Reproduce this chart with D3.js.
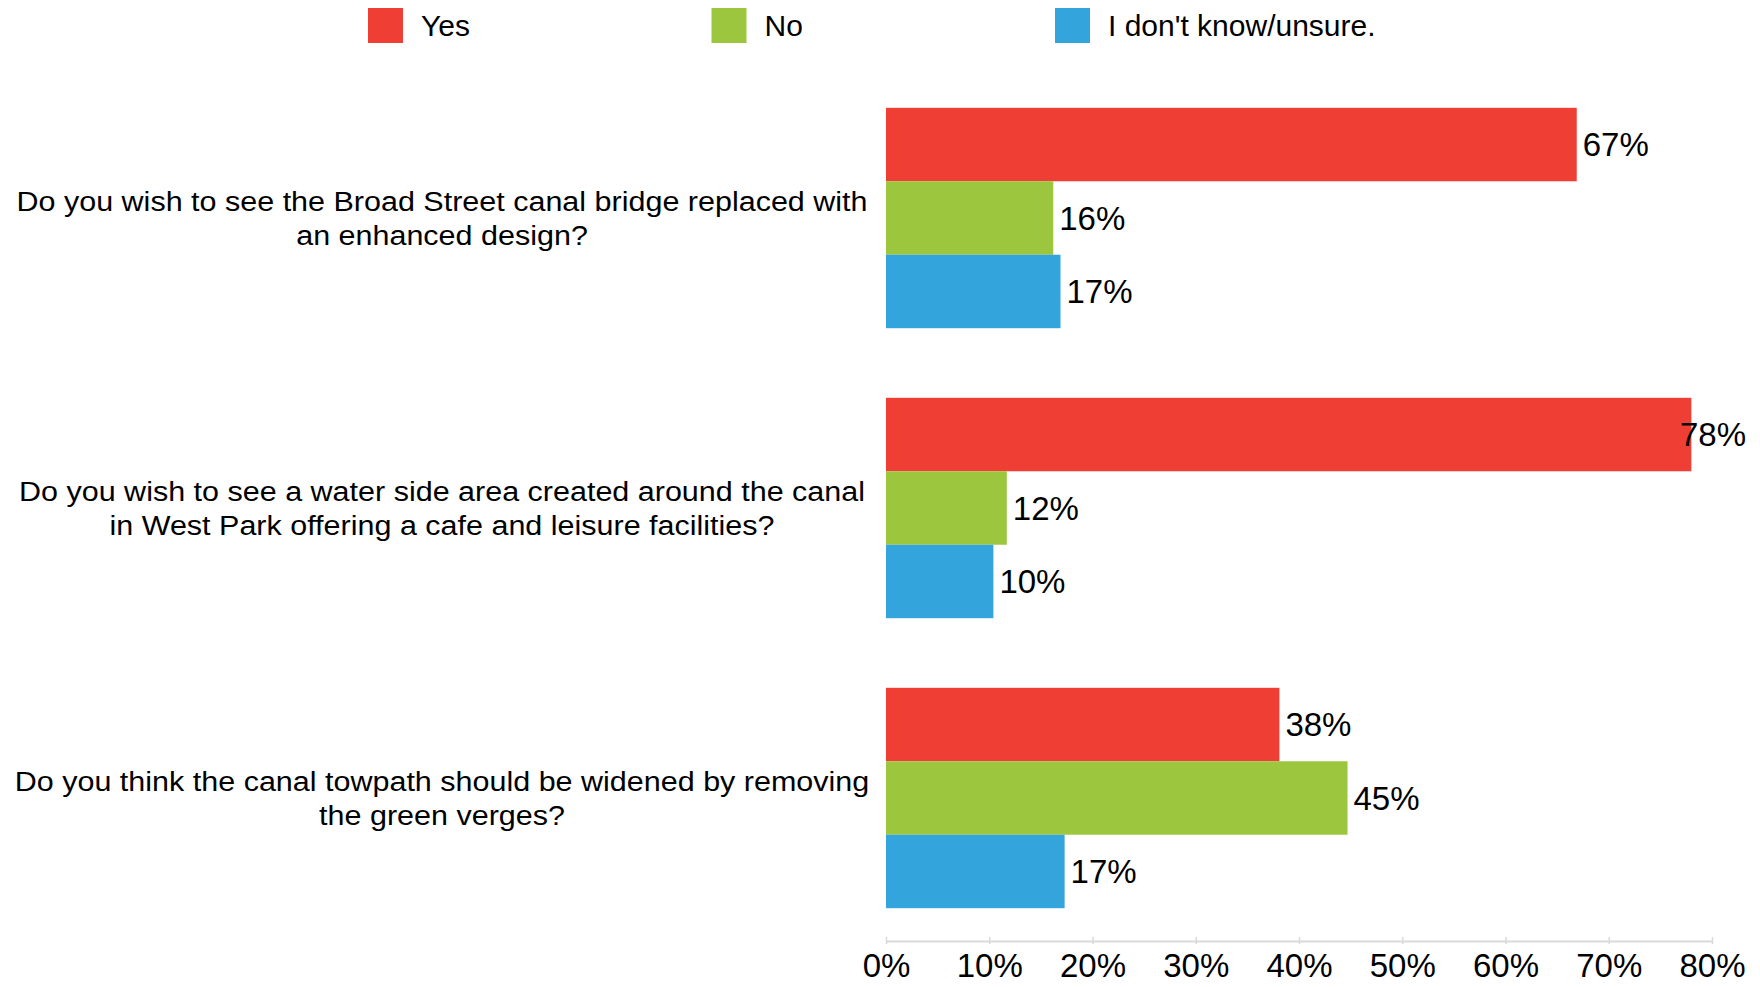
<!DOCTYPE html>
<html>
<head>
<meta charset="utf-8">
<script src="https://cdn.jsdelivr.net/npm/d3@7"></script>
<style>
  html, body { margin: 0; padding: 0; background: #ffffff; }
  svg { display: block; font-family: "Liberation Sans", Arial, sans-serif; }
</style>
</head>
<body>
<svg id="chart" width="1760" height="987"></svg>
<script>
// ---- data ----
const categories = [
  ["Do you wish to see the Broad Street canal bridge replaced with", "an enhanced design?"],
  ["Do you wish to see a water side area created around the canal", "in West Park offering a cafe and leisure facilities?"],
  ["Do you think the canal towpath should be widened by removing", "the green verges?"]
];
const seriesNames = ["Yes", "No", "I don't know/unsure."];
const seriesColors = ["#EF3E33", "#9BC63D", "#34A4DD"];
const yesValues = [66.9, 78.0, 38.1];
const noValues = [16.2, 11.7, 44.7];
const unsureValues = [16.9, 10.4, 17.3];
const tickValues = [0, 10, 20, 30, 40, 50, 60, 70, 80];

const series = [yesValues, noValues, unsureValues];

const svg = d3.select("#chart");

const x = d3.scaleLinear().domain([0, 80]).range([886, 1712]);
const y0 = d3.scaleBand().domain(d3.range(categories.length)).range([73, 943])
  .paddingInner(0.24).paddingOuter(0.12);
const y1 = d3.scaleBand().domain(d3.range(series.length)).range([0, y0.bandwidth()]);

// ---- bars ----
const groups = svg.append("g").selectAll("g")
  .data(categories)
  .join("g")
  .attr("transform", (d, i) => `translate(0,${y0(i)})`);

groups.selectAll("rect")
  .data((d, i) => series.map((s, k) => ({ k, v: s[i] })))
  .join("rect")
  .attr("x", x(0))
  .attr("y", d => y1(d.k))
  .attr("width", d => x(d.v) - x(0))
  .attr("height", y1.bandwidth())
  .attr("fill", d => seriesColors[d.k]);

// ---- value labels ----
const rightLimit = 1746;
groups.selectAll("text.val")
  .data((d, i) => series.map((s, k) => ({ k, v: s[i] })))
  .join("text")
  .attr("class", "val")
  .attr("x", d => x(d.v) + 6)
  .attr("y", d => y1(d.k) + y1.bandwidth() / 2)
  .attr("dy", "0.36em")
  .attr("font-size", 33)
  .attr("fill", "#000")
  .text(d => d3.format(".0f")(d.v) + "%")
  .each(function () {
    const t = d3.select(this);
    const w = this.getComputedTextLength();
    const xx = +t.attr("x");
    if (xx + w > rightLimit) t.attr("x", rightLimit - w);
  });

// ---- category labels ----
const labelCenter = 442;
groups.append("text")
  .attr("text-anchor", "middle")
  .attr("font-size", 27)
  .attr("fill", "#000")
  .attr("transform", `translate(${labelCenter},${y0.bandwidth() / 2}) scale(1.13,1)`)
  .selectAll("tspan")
  .data(d => d)
  .join("tspan")
  .attr("x", 0)
  .attr("y", (d, j, arr) => (j - (arr.length - 1) / 2) * 34)
  .attr("dy", "0.36em")
  .text(d => d);

// ---- x axis ----
const axisY = 941;
const axis = d3.axisBottom(x)
  .tickValues(tickValues)
  .tickSize(0)
  .tickPadding(13)
  .tickFormat(d => d + "%");
const ax = svg.append("g").attr("transform", `translate(0,${axisY})`).call(axis);
ax.select(".domain").attr("stroke", "#d9d9d9").attr("stroke-width", 2);
ax.selectAll(".tick line").remove();
ax.selectAll(".tick").append("line")
  .attr("y1", -4).attr("y2", 3)
  .attr("stroke", "#d9d9d9").attr("stroke-width", 1.5);
ax.selectAll(".tick text")
  .attr("font-size", 33)
  .attr("font-family", "'Liberation Sans', Arial, sans-serif")
  .attr("fill", "#000");

// ---- legend ----
const legendX = d3.scaleOrdinal().domain(d3.range(3)).range([368, 711.5, 1055]);
const lg = svg.append("g").selectAll("g")
  .data(seriesNames)
  .join("g")
  .attr("transform", (d, i) => `translate(${legendX(i)},8)`);
lg.append("rect").attr("width", 35).attr("height", 35)
  .attr("fill", (d, i) => seriesColors[i]);
lg.append("text").attr("x", 53).attr("y", 17.5).attr("dy", "0.36em")
  .attr("font-size", 30).attr("fill", "#000")
  .text(d => d);
</script>
</body>
</html>
